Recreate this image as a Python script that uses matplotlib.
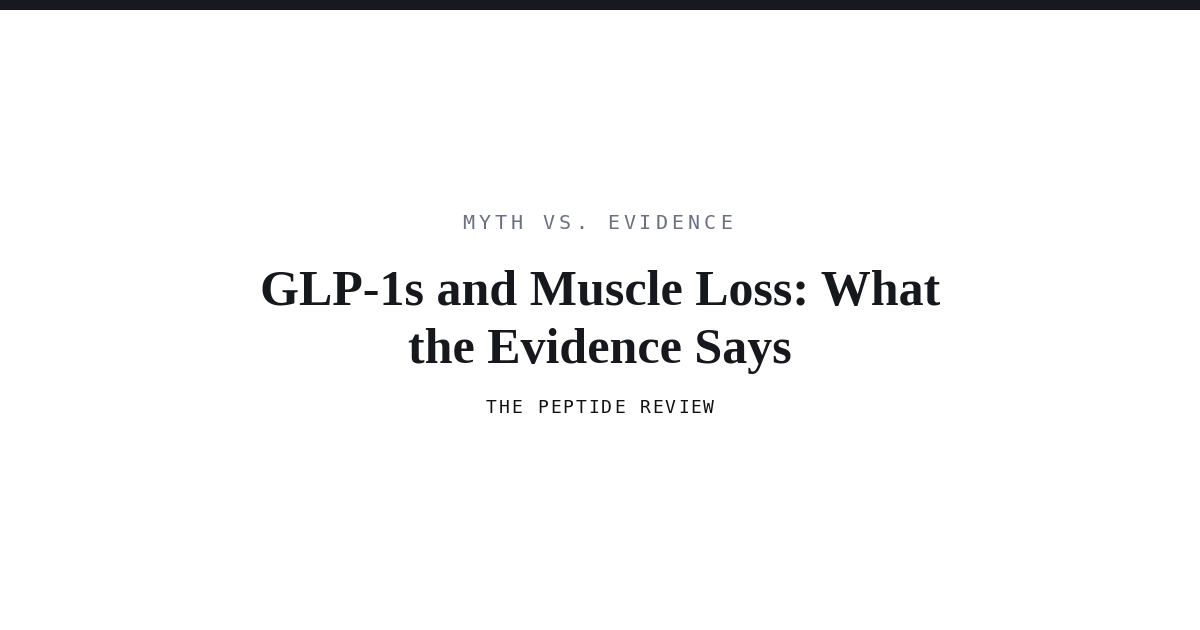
import matplotlib
matplotlib.use("Agg")
import matplotlib.pyplot as plt
from matplotlib.patches import Rectangle

W, H = 1200, 630

kicker = "MYTH VS. EVIDENCE"
title_lines = ["GLP-1s and Muscle Loss: What", "the Evidence Says"]
byline = "THE PEPTIDE REVIEW"

fig = plt.figure(figsize=(W / 100, H / 100), dpi=100)
fig.patch.set_facecolor("white")


def px(x, y):
    # pixel coords (top-left origin) -> figure fraction
    return x / W, 1 - y / H


def spaced(text, cy, size_px, step_px, color, dx=0):
    # monospace text with letter spacing, centred on the page
    n = len(text)
    x0 = W / 2 + dx - step_px * (n - 1) / 2
    for i, ch in enumerate(text):
        fx, fy = px(x0 + i * step_px, cy)
        fig.text(fx, fy, ch, ha="center", va="center", family="DejaVu Sans Mono",
                 fontsize=size_px * 0.72, color=color)


# dark strip along the top
fig.patches.append(Rectangle((0, 1 - 10 / H), 1, 10 / H, transform=fig.transFigure,
                             facecolor="#18191f", edgecolor="none"))

spaced(kicker, 223, 20, 16.1, "#6b7080", dx=-3)

for line, base in zip(title_lines, [305, 363]):
    fx, fy = px(W / 2, base)
    fig.text(fx, fy, line, ha="center", va="baseline", family="Liberation Serif",
             fontweight="bold", fontsize=50.0 * 0.72, color="#17181d")

spaced(byline, 408, 18, 12.8, "#111111")

fig.savefig("out.png", dpi=100, facecolor="white")
